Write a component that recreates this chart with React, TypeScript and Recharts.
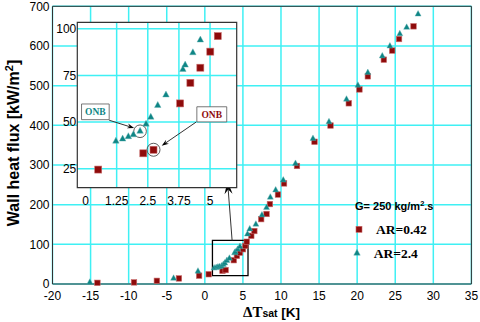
import React from "react";
import {
  CartesianGrid,
  Legend,
  ReferenceArea,
  ReferenceDot,
  ReferenceLine,
  Scatter,
  ScatterChart,
  XAxis,
  YAxis,
} from "recharts";

// AR = 0.42 (squares): wall superheat [K] and wall heat flux [kW/m2]
const ar042Dt = [
  -14.1, -9.3, -6.3, -3.4, -0.75, 0.51, 2.32, 2.73, 3.8, 4.21, 4.61, 5.01, 5.31,
  5.5, 6.1, 6.5, 7.4, 8.1, 8.55, 9.6, 10.4, 12.1, 14.4, 16.5, 18.9, 20.3, 21.4,
  23.5, 24.6, 25.5, 27.4,
];
const ar042Q = [
  3, 4, 8, 14, 21, 24.6, 33.3, 35.2, 60, 71, 79.1, 87.7, 96, 106.5, 121.5,
  133.5, 163.5, 176.5, 201.5, 225.5, 253.5, 297.5, 358.5, 399.5, 455.5, 490.5,
  523.5, 565.5, 588.5, 617.5, 649.5,
];

// AR = 2.4 (triangles)
const ar24Dt = [
  -15.1, -4.1, -0.9, 1.22, 1.49, 1.72, 1.92, 2.19, 2.43, 2.62, 2.9, 3.23, 3.91,
  4.0, 4.31, 4.61, 5.6, 5.9, 6.7, 7.5, 8.1, 8.6, 9.3, 10.3, 11.9, 14.2, 16.3,
  18.6, 20.1, 21.4, 23.3, 24.3, 25.6, 26.5, 28.0,
];
const ar24Q = [
  4, 14, 32, 39.8, 40.9, 42.2, 43.2, 45.1, 48.9, 52.6, 58.9, 64.5, 78.2, 80.5,
  87.1, 93.9, 125.5, 138.5, 150.5, 173.5, 192.5, 218.5, 236.5, 261.5, 303.5,
  366.5, 408.5, 465.5, 500.5, 532.5, 574.5, 599.5, 630.5, 646.5, 680,
];

const mainXTicks = [-20, -15, -10, -5, 0, 5, 10, 15, 20, 25, 30, 35];
const mainYTicks = [0, 100, 200, 300, 400, 500, 600, 700];
const mainXMinor = [-17.5, -12.5, -7.5, -2.5, 2.5, 7.5, 12.5, 17.5, 22.5, 27.5, 32.5];
const mainYMinor = [50, 150, 250, 350, 450, 550, 650];

const insetXTicks = [0, 1.25, 2.5, 3.75, 5];
const insetXGrid = [1.25, 2.5, 3.75, 5];
const insetYTicks = [25, 50, 75, 100];
const insetXDomain = [-0.33, 6.07];
const insetYDomain = [14.9, 103.4];

// zoom box drawn on the main plot and the ONB call-outs in the inset
const zoomBox = { x1: 1, x2: 5.67, y1: 21, y2: 110 };
const zoomArrow = [{ x: 3.58, y: 110 }, { x: 2.98, y: 259.4 }];
const onbTealBox = { x1: -0.16, x2: 0.95, y1: 51.3, y2: 59.7 };
const onbTealArrow = [{ x: 0.95, y: 51.0 }, { x: 1.95, y: 46.8 }];
const onbRedBox = { x1: 4.47, x2: 5.67, y1: 50.1, y2: 58.2 };
const onbRedArrow = [{ x: 4.44, y: 50.0 }, { x: 3.06, y: 37.4 }];
const onbTealIndex = 7;
const onbRedIndex = 7;

const RED = "#8e0b0b";
const TEAL = "#0e8585";
const GRID = "#3ff0f4";
const SANS = "'Liberation Sans', Arial, sans-serif";
const SERIF = "'Liberation Serif', 'Times New Roman', serif";

type Pt = { x: number; y: number };

const toPoints = (xs: number[], ys: number[]): Pt[] => xs.map((x, i) => ({ x, y: ys[i] }));

const inInset = (p: Pt) =>
  p.x >= insetXDomain[0] && p.x <= insetXDomain[1] && p.y >= insetYDomain[0] && p.y <= insetYDomain[1];

const ar042 = toPoints(ar042Dt, ar042Q);
const ar24 = toPoints(ar24Dt, ar24Q);

function SquareMark({ cx, cy, size }: { cx: number; cy: number; size: number }) {
  return (
    <rect
      x={cx - size / 2}
      y={cy - size / 2}
      width={size}
      height={size}
      fill={RED}
      stroke="#c86a6a"
      strokeWidth={0.6}
    />
  );
}

function TriangleMark({ cx, cy, w, h }: { cx: number; cy: number; w: number; h: number }) {
  const pts = `${cx},${cy - (2 * h) / 3} ${cx - w / 2},${cy + h / 3} ${cx + w / 2},${cy + h / 3}`;
  return <polygon points={pts} fill={TEAL} stroke="#5fb0b0" strokeWidth={0.4} />;
}

function ArrowLine(props: any) {
  const { x1, y1, x2, y2, head = 10, spread = 4 } = props;
  const ang = Math.atan2(y2 - y1, x2 - x1);
  const bx = x2 - head * Math.cos(ang);
  const by = y2 - head * Math.sin(ang);
  const nx = -Math.sin(ang) * spread;
  const ny = Math.cos(ang) * spread;
  const mx = x2 - head * 0.65 * Math.cos(ang);
  const my = y2 - head * 0.65 * Math.sin(ang);
  return (
    <g>
      <line x1={x1} y1={y1} x2={mx} y2={my} stroke="#333" strokeWidth={1} />
      <path d={`M${x2},${y2} L${bx + nx},${by + ny} L${mx},${my} L${bx - nx},${by - ny} Z`} fill="#000" />
    </g>
  );
}

const renderLegend = (props: any) => {
  const payload = props.payload || [];
  return (
    <svg width={130} height={72} style={{ display: "block" }}>
      <text x={15} y={14.6} fontFamily={SANS} fontWeight="bold" fontSize={11} fill="#000">
        G= 250 kg/m<tspan dy={-4} fontSize={7.5}>2</tspan>
        <tspan dy={4}>.s</tspan>
      </text>
      {payload.map((entry: any, i: number) => (
        <g key={entry.value}>
          {i === 0 ? (
            <SquareMark cx={19} cy={34.3} size={6} />
          ) : (
            <TriangleMark cx={17} cy={58.2} w={6.5} h={6} />
          )}
          <text
            x={i === 0 ? 36 : 33.7}
            y={i === 0 ? 39 : 62.6}
            fontFamily={SERIF}
            fontWeight="bold"
            fontSize={13.5}
            fill="#000"
          >
            {entry.value}
          </text>
        </g>
      ))}
    </svg>
  );
};

const renderYLabel = () => (
  <text
    x={18.5}
    y={143}
    transform="rotate(-90 18.5 143)"
    textAnchor="middle"
    fontFamily={SANS}
    fontWeight="bold"
    fontSize={16}
    fill="#000"
  >
    Wall heat flux [kW/m<tspan dy={-6} fontSize={11}>2</tspan>
    <tspan dy={6}>]</tspan>
  </text>
);

const renderXLabel = () => (
  <text x={243} y={316.5} fill="#000">
    <tspan fontFamily={SERIF} fontWeight="bold" fontSize={15}>ΔT</tspan>
    <tspan fontFamily={SANS} fontWeight="bold" fontSize={10.5}>sat</tspan>
    <tspan fontFamily={SANS} fontWeight="bold" fontSize={13.5}> [K]</tspan>
  </text>
);

const tickStyle = { fontFamily: SANS, fontSize: 12, fill: "#000" };
const insetTickStyle = { fontFamily: SANS, fontSize: 12, fill: "#000" };
const onbLabel = (color: string) => ({
  value: "ONB",
  position: "center" as const,
  fill: color,
  fontFamily: SERIF,
  fontWeight: "bold",
  fontSize: 9.5,
});

export default function App() {
  const ar042Inset = ar042.filter(inInset);
  const ar24Inset = ar24.filter(inInset);

  return (
    <div style={{ position: "absolute", left: 0, top: 0, width: 480, height: 322, background: "#fff" }}>
      <ScatterChart width={480} height={322} margin={{ top: 6.3, right: 8.6, bottom: 8, left: 7.5 }}>
        <CartesianGrid stroke={GRID} strokeWidth={1.5} />
        <XAxis
          type="number"
          dataKey="x"
          domain={[-20, 35]}
          ticks={mainXTicks}
          interval={0}
          height={30}
          tickLine={false}
          tickSize={0}
          tickMargin={7}
          axisLine={{ stroke: "#333" }}
          tick={tickStyle}
          label={renderXLabel}
        />
        <YAxis
          type="number"
          dataKey="y"
          domain={[0, 700]}
          ticks={mainYTicks}
          interval={0}
          width={45}
          tickLine={false}
          tickSize={0}
          tickMargin={3}
          axisLine={{ stroke: "#333" }}
          tick={tickStyle}
          label={renderYLabel}
        />
        <XAxis xAxisId="top" orientation="top" mirror type="number" domain={[-20, 35]} allowDataOverflow ticks={mainXMinor} interval={0} height={1} tick={false} tickSize={4} tickLine={{ stroke: "#555" }} axisLine={{ stroke: "#333" }} />
        <XAxis xAxisId="bottomMinor" orientation="bottom" mirror type="number" domain={[-20, 35]} allowDataOverflow ticks={mainXMinor} interval={0} height={1} tick={false} tickSize={4} tickLine={{ stroke: "#555" }} axisLine={false} />
        <YAxis yAxisId="right" orientation="right" mirror type="number" domain={[0, 700]} allowDataOverflow ticks={mainYMinor} interval={0} width={1} tick={false} tickSize={4} tickLine={{ stroke: "#555" }} axisLine={{ stroke: "#333" }} />
        <YAxis yAxisId="leftMinor" orientation="left" mirror type="number" domain={[0, 700]} allowDataOverflow ticks={mainYMinor} interval={0} width={1} tick={false} tickSize={4} tickLine={{ stroke: "#555" }} axisLine={false} />
        <ReferenceArea {...zoomBox} fill="none" stroke="#000" strokeWidth={1.3} fillOpacity={0} />
        <ReferenceLine segment={zoomArrow} shape={(p: any) => <ArrowLine {...p} head={13} spread={4} />} />
        <Legend
          layout="vertical"
          align="center"
          verticalAlign="middle"
          content={renderLegend}
          wrapperStyle={{ left: 340, top: 195, width: 130, height: 72 }}
        />
        <Scatter
          name="AR=0.42"
          data={ar042}
          fill={RED}
          isAnimationActive={false}
          shape={(p: any) => <SquareMark cx={p.cx} cy={p.cy} size={5.5} />}
        />
        <Scatter
          name="AR=2.4"
          data={ar24}
          fill={TEAL}
          isAnimationActive={false}
          shape={(p: any) => <TriangleMark cx={p.cx} cy={p.cy} w={6} h={5.5} />}
        />
      </ScatterChart>

      <div style={{ position: "absolute", left: 40, top: 10 }}>
        <ScatterChart width={205} height={200} margin={{ top: 12.3, right: 8.3, bottom: 0.3, left: 7.3 }}>
          <CartesianGrid fill="#fff" stroke={GRID} strokeWidth={1.5} verticalValues={insetXGrid} horizontalValues={insetYTicks} />
          <XAxis
            type="number"
            dataKey="x"
            domain={insetXDomain}
            allowDataOverflow
            ticks={insetXTicks}
            interval={0}
            height={22}
            tickLine={false}
            tickSize={0}
            tickMargin={9}
            axisLine={false}
            tick={insetTickStyle}
          />
          <YAxis
            type="number"
            dataKey="y"
            domain={insetYDomain}
            allowDataOverflow
            ticks={insetYTicks}
            interval={0}
            width={30}
            tickLine={false}
            tickSize={0}
            tickMargin={1}
            axisLine={false}
            tick={insetTickStyle}
          />
          <ReferenceArea
            x1={insetXDomain[0]}
            x2={insetXDomain[1]}
            y1={insetYDomain[0]}
            y2={insetYDomain[1]}
            fill="none"
            fillOpacity={0}
            stroke="#333"
            strokeWidth={1.2}
          />
          <ReferenceArea {...onbTealBox} fill="#fff" fillOpacity={1} stroke="#555" strokeWidth={0.8} label={onbLabel(TEAL)} />
          <ReferenceArea {...onbRedBox} fill="#fff" fillOpacity={1} stroke="#555" strokeWidth={0.8} label={onbLabel(RED)} />
          <ReferenceLine segment={onbTealArrow} shape={(p: any) => <ArrowLine {...p} head={7} spread={2.5} />} />
          <ReferenceLine segment={onbRedArrow} shape={(p: any) => <ArrowLine {...p} head={7} spread={2.5} />} />
          <ReferenceDot x={ar24Dt[onbTealIndex]} y={ar24Q[onbTealIndex]} r={6.3} fill="none" stroke="#333" strokeWidth={0.8} />
          <ReferenceDot x={ar042Dt[onbRedIndex]} y={ar042Q[onbRedIndex]} r={6.5} fill="none" stroke="#333" strokeWidth={0.8} />
          <Scatter
            data={ar042Inset}
            fill={RED}
            isAnimationActive={false}
            shape={(p: any) => <SquareMark cx={p.cx} cy={p.cy} size={7} />}
          />
          <Scatter
            data={ar24Inset}
            fill={TEAL}
            isAnimationActive={false}
            shape={(p: any) => <TriangleMark cx={p.cx} cy={p.cy} w={6.5} h={6} />}
          />
        </ScatterChart>
      </div>
    </div>
  );
}
